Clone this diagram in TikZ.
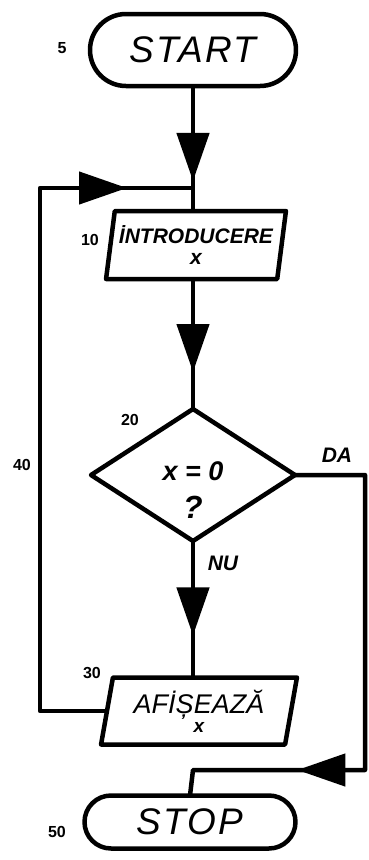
\documentclass[tikz,border=0pt]{standalone}
\usepackage{fontspec}
\setmainfont{Liberation Sans}
\usetikzlibrary{shapes.geometric,shapes.misc,arrows.meta,decorations.markings}
\begin{document}
\begin{tikzpicture}[x=1pt,y=-1pt, line width=4.5pt, line join=round,
 term/.style={rounded rectangle, draw, outer sep=0pt, inner sep=0pt, font=\itshape\fontsize{37}{40}\selectfont\addfontfeatures{LetterSpace=6}},
 io/.style={trapezium, trapezium left angle=78, trapezium right angle=102, trapezium stretches=true, draw, outer sep=0pt, inner sep=0pt, align=center},
 cnd/.style={diamond, draw, outer sep=0pt, inner sep=0pt},
 num/.style={font=\bfseries\fontsize{16}{16}\selectfont},
 lbl/.style={font=\bfseries\itshape\fontsize{21}{21}\selectfont},
 arrowmark/.style={postaction={decorate, decoration={markings, mark=at position #1 with {\arrow{Triangle[length=48pt,width=32pt]}}}}}
]
\useasboundingbox (0,0) rectangle (368,860);
\node[term, minimum width=206, minimum height=72] (start) at (193,50) {START};
\node[io, minimum width=180, minimum height=68, font=\bfseries\itshape\fontsize{21}{21}\selectfont] (intro) at (196,245) {İNTRODUCERE\\x};
\node[cnd, minimum width=204, minimum height=132] (cond) at (193,475) {};
\node[align=center, font=\bfseries\itshape\fontsize{27}{38}\selectfont] (condtext) at (193,490) {x = 0\\{\fontsize{32}{32}\selectfont ?}};
\node[io, minimum width=196, minimum height=67, font=\itshape\fontsize{27}{24}\selectfont] (afis) at (199,711) {AFİȘEAZĂ\\[-5pt]{\bfseries\fontsize{19}{19}\selectfont x}};
\node[term, minimum width=211, minimum height=53] (stop) at (190,822) {STOP};

\node[num] (n5) at (62,48) {5};
\node[num] (n10) at (90,240) {10};
\node[num] (n20) at (130,420) {20};
\node[num] (n40) at (22,465) {40};
\node[num] (n30) at (92,673) {30};
\node[num] (n50) at (57,832) {50};
\node[lbl] (da) at (337,455) {DA};
\node[lbl] (nu) at (223,563) {NU};

\coordinate (j) at (193,188);
\coordinate (l2) at (40,188);
\coordinate (r1) at (365,475);
\coordinate (r2) at (365,770);
\coordinate (m) at (193,770);

\draw[arrowmark=-30pt] (start.south) -- (start.south |- intro.north);
\draw[arrowmark=-37pt] (intro.south -| cond.north) -- (cond.north);
\draw[arrowmark=-42pt] (cond.south) -- (cond.south |- afis.north);
\draw[arrowmark=-66pt] (afis.west) -- (afis.west -| l2) -- (l2) -- (j);
\draw[arrowmark=-130pt] (cond.east) -- (r1) -- (r2) -- (m) -- (stop.north);
\end{tikzpicture}
\end{document}
